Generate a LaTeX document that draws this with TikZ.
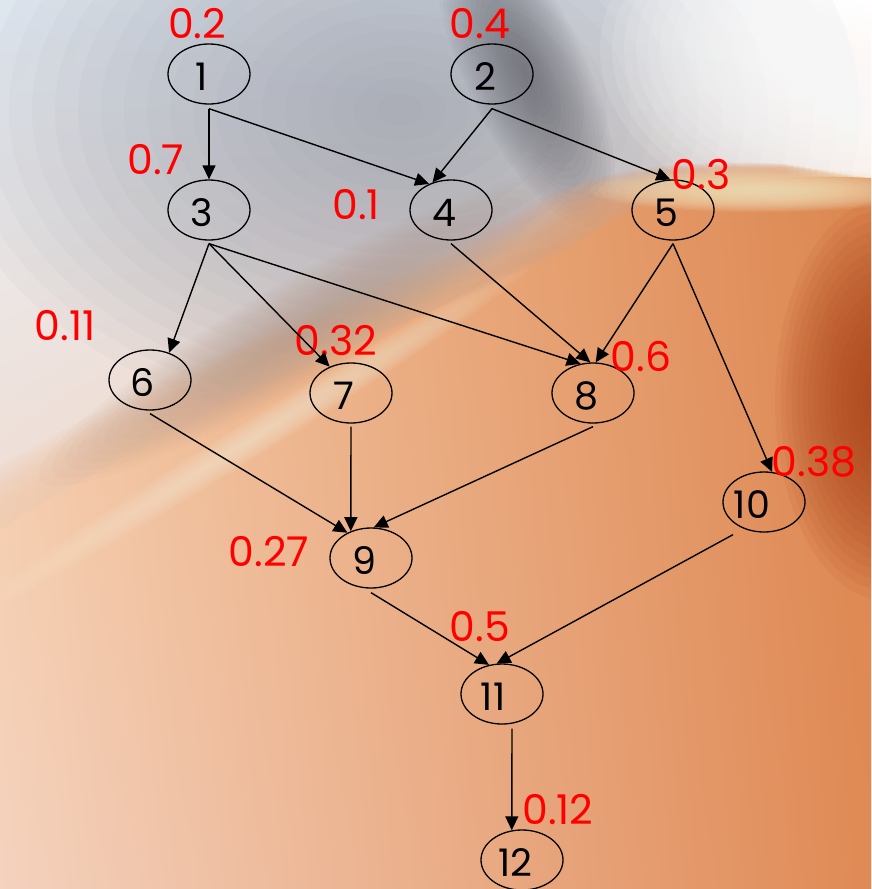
\documentclass[tikz,border=0pt]{standalone}
\usepackage{fontspec}
\setmainfont{Poppins}
\usetikzlibrary{arrows.meta,shapes.geometric,shadings}
\definecolor{bgUL}{HTML}{E8F0F8}
\definecolor{bgUR}{HTML}{FFFFFF}
\definecolor{bgLL}{HTML}{F4D0BA}
\definecolor{bgLR}{HTML}{E08A55}
\definecolor{orUL}{HTML}{F6CCA6}
\definecolor{orUR}{HTML}{DC8650}
\definecolor{orLL}{HTML}{F4D2BE}
\definecolor{orLR}{HTML}{E08A55}
\definecolor{grayblob}{HTML}{8E95A4}
\definecolor{darkswoop}{HTML}{55555C}
\definecolor{darkorange}{HTML}{A84018}
\definecolor{cream}{HTML}{F2E2BC}
\definecolor{tanband}{HTML}{B09484}
\definecolor{streak}{HTML}{F8E4CC}
% soft blob: colour, opacity per step, cx, cy, rx, ry, rotation
\newcommand{\sblob}[7]{%
  \foreach \i in {1,...,20}{%
    \fill[#1, opacity=#2, rotate around={#7:(#3,#4)}] (#3,#4) ellipse [x radius={#5*\i/20}, y radius={#6*\i/20}];%
  }}
\newcommand{\orpath}{(871,178) .. controls (760,172) and (660,185) .. (605,225)
    .. controls (500,295) and (250,370) .. (0,530) -- (0,889) -- (871,889) -- cycle}
\begin{document}
\begin{tikzpicture}[x=1pt,y=-1pt,
  vert/.style={draw=black, line width=1.3pt, ellipse, minimum width=82pt, minimum height=60pt, inner sep=0pt},
  num/.style={font=\fontsize{38}{38}\selectfont, text=black, inner sep=0pt},
  wt/.style={font=\fontsize{41}{41}\selectfont, text=red, inner sep=0pt},
  edge/.style={line width=1.4pt, -{Triangle[length=14pt,width=13pt]}},
  orfill/.style={upper left=orUL, upper right=orUR, lower left=orLL, lower right=orLR}
]
\useasboundingbox (0,0) rectangle (871,889);
\begin{scope}
\clip (0,0) rectangle (871,889);
\shade[upper left=bgUL, upper right=bgUR, lower left=bgLL, lower right=bgLR] (0,0) rectangle (871,889);
\sblob{grayblob}{0.05}{400}{110}{460}{320}{0}
\sblob{darkswoop}{0.045}{525}{70}{60}{170}{25}
\sblob{white}{0.1}{840}{50}{240}{170}{0}
\foreach \k in {14,13,...,1}{
  \shade[orfill, opacity=0.11, shift={(-6*\k,-1*\k)}] \orpath;
}
\shade[orfill] \orpath;
\sblob{tanband}{0.045}{300}{330}{300}{50}{30}
\sblob{streak}{0.06}{250}{440}{330}{18}{32}
\sblob{darkorange}{0.08}{885}{400}{110}{200}{0}
\sblob{cream}{0.1}{760}{190}{170}{22}{0}
\end{scope}

\node[vert, label={[num,xshift=-7pt,yshift=-3pt]center:1}] (n1) at (209,74) {};
\node[vert, label={[num,xshift=-7pt,yshift=-3pt]center:2}] (n2) at (492,74) {};
\node[vert, label={[num,xshift=-7pt,yshift=-3pt]center:3}] (n3) at (209,210) {};
\node[vert, label={[num,xshift=-7pt,yshift=-3pt]center:4}] (n4) at (451,210) {};
\node[vert, label={[num,xshift=-7pt,yshift=-3pt]center:5}] (n5) at (673,210) {};
\node[vert, label={[num,xshift=-7pt,yshift=-3pt]center:6}] (n6) at (150,380) {};
\node[vert, label={[num,xshift=-7pt,yshift=-3pt]center:7}] (n7) at (351,393) {};
\node[vert, label={[num,xshift=-7pt,yshift=-3pt]center:8}] (n8) at (593,393) {};
\node[vert, label={[num,xshift=-7pt,yshift=-3pt]center:9}] (n9) at (371,558) {};
\node[vert, label={[num,xshift=-12pt,yshift=-3pt]center:10}] (n10) at (764,502) {};
\node[vert, label={[num,xshift=-9pt,yshift=-3pt]center:11}] (n11) at (502,694) {};
\node[vert, label={[num,xshift=-7pt,yshift=-3pt]center:12}] (n12) at (522,860) {};

\node[wt] (w1) at (197,24) {0.2};
\node[wt] (w2) at (480,24) {0.4};
\node[wt] (w3) at (156,160) {0.7};
\node[wt] (w4) at (356,205) {0.1};
\node[wt] (w5) at (701,175) {0.3};
\node[wt] (w6) at (65,326) {0.11};
\node[wt] (w7) at (336,341) {0.32};
\node[wt] (w8) at (641,356) {0.6};
\node[wt] (w10) at (814,462) {0.38};
\node[wt] (w9) at (269,552) {0.27};
\node[wt] (w11) at (480,627) {0.5};
\node[wt] (w12) at (558,810) {0.12};

\draw[edge] ([yshift=-4pt]n1.south) -- (n3.north);
\draw[edge] ([yshift=-4pt]n1.south) -- (n4.130);
\draw[edge] ([yshift=-4pt]n2.south) -- (n4.124);
\draw[edge] ([yshift=-4pt]n2.south) -- (n5.95);
\draw[edge] ([yshift=-3pt]n3.south) -- (n6.55);
\draw[edge] ([yshift=-3pt]n3.south) -- (n7.129);
\draw[edge] ([yshift=-3pt]n3.south) -- (n8.113);
\draw[edge] ([yshift=-3pt]n4.south) -- (n8.95);
\draw[edge] ([yshift=-3pt]n5.south) -- (n8.85);
\draw[edge] ([yshift=-3pt]n5.south) -- (n10.75);
\draw[edge] ([yshift=-3pt]n6.south) -- (n9.133);
\draw[edge] ([yshift=-3pt]n7.south) -- (n9.127);
\draw[edge] ([yshift=-3pt]n8.south) -- (n9.85);
\draw[edge] ([yshift=-4pt]n9.south) -- (n11.114);
\draw[edge] ([xshift=-31pt,yshift=-2pt]n10.south) -- (n11.100);
\draw[edge] ([xshift=10pt,yshift=-4pt]n11.south) -- (n12.109);
\end{tikzpicture}
\end{document}
